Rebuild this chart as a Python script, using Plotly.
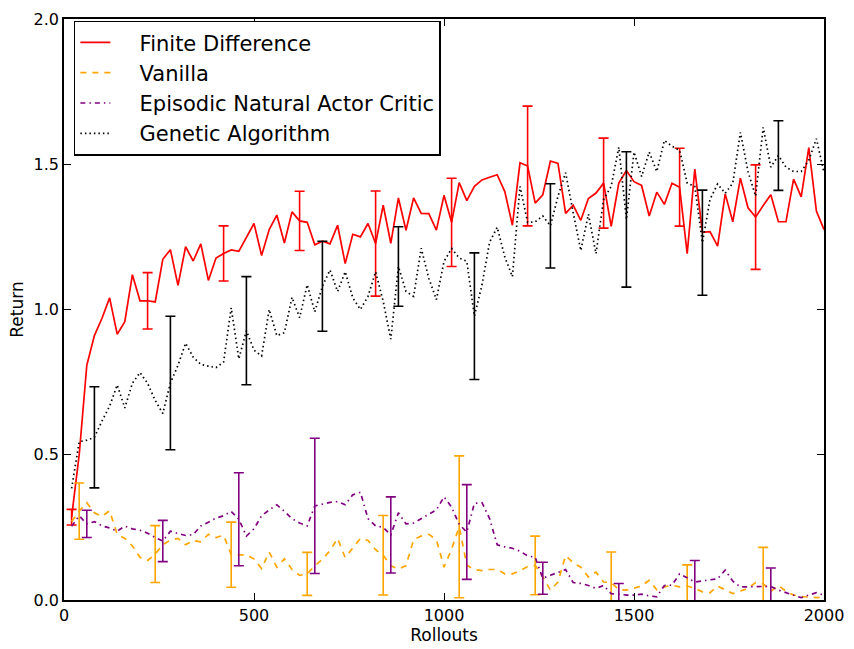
import plotly.graph_objects as go

rollouts = list(range(20, 2001, 20))

finite_difference = [
    0.285, 0.50, 0.808, 0.91, 0.97, 1.04, 0.915, 0.958, 1.12, 1.03,
    1.03, 1.026, 1.173, 1.206, 1.083, 1.216, 1.167, 1.226, 1.10, 1.177,
    1.193, 1.205, 1.20, 1.248, 1.296, 1.186, 1.275, 1.325, 1.229, 1.336,
    1.305, 1.30, 1.223, 1.235, 1.226, 1.29, 1.158, 1.259, 1.25, 1.296,
    1.227, 1.359, 1.228, 1.384, 1.273, 1.384, 1.331, 1.33, 1.273, 1.393,
    1.30, 1.437, 1.375, 1.424, 1.446, 1.455, 1.464, 1.406, 1.29, 1.505,
    1.494, 1.366, 1.395, 1.511, 1.503, 1.331, 1.359, 1.307, 1.382, 1.401,
    1.435, 1.286, 1.435, 1.478, 1.44, 1.427, 1.322, 1.404, 1.362, 1.435,
    1.421, 1.192, 1.483, 1.266, 1.268, 1.218, 1.398, 1.302, 1.452, 1.35,
    1.318, 1.358, 1.395, 1.302, 1.302, 1.449, 1.388, 1.557, 1.339, 1.275,
]

vanilla = [
    0.27, 0.306, 0.335, 0.30, 0.288, 0.307, 0.226, 0.212, 0.186, 0.147,
    0.136, 0.158, 0.19, 0.206, 0.212, 0.19, 0.205, 0.20, 0.226, 0.215,
    0.223, 0.156, 0.155, 0.156, 0.141, 0.108, 0.165, 0.113, 0.142, 0.105,
    0.085, 0.09, 0.118, 0.14, 0.17, 0.212, 0.146, 0.18, 0.212, 0.205,
    0.173, 0.154, 0.118, 0.107, 0.118, 0.208, 0.22, 0.226, 0.208, 0.113,
    0.175, 0.252, 0.12, 0.105, 0.101, 0.105, 0.105, 0.09, 0.09, 0.101,
    0.115, 0.119, 0.08, 0.034, 0.062, 0.153, 0.128, 0.113, 0.079, 0.096,
    0.062, 0.06, 0.036, 0.034, 0.04, 0.048, 0.068, 0.035, 0.045, 0.051,
    0.045, 0.048, 0.04, 0.028, 0.025, 0.048, 0.035, 0.022, 0.031, 0.04,
    0.06, 0.056, 0.03, 0.05, 0.03, 0.017, 0.012, 0.009, 0.008, 0.01,
]

enac = [
    0.254, 0.29, 0.262, 0.27, 0.255, 0.248, 0.237, 0.254, 0.245, 0.24,
    0.23, 0.215, 0.203, 0.237, 0.229, 0.222, 0.225, 0.255, 0.268, 0.282,
    0.29, 0.305, 0.278, 0.22, 0.245, 0.29, 0.31, 0.328, 0.305, 0.28,
    0.265, 0.255, 0.324, 0.33, 0.336, 0.339, 0.328, 0.362, 0.371, 0.28,
    0.255, 0.25, 0.224, 0.30, 0.262, 0.265, 0.28, 0.295, 0.31, 0.355,
    0.32, 0.26, 0.234, 0.333, 0.335, 0.28, 0.19, 0.183, 0.178, 0.168,
    0.152, 0.147, 0.075, 0.085, 0.096, 0.105, 0.06, 0.057, 0.05, 0.04,
    0.05, 0.022, 0.02, 0.017, 0.017, 0.02, 0.014, 0.011, 0.05, 0.051,
    0.09, 0.075, 0.062, 0.066, 0.07, 0.073, 0.103, 0.065, 0.045, 0.045,
    0.045, 0.046, 0.047, 0.034, 0.025, 0.015, 0.008, 0.017, 0.025, 0.017,
]

genetic = [
    0.384, 0.545, 0.55, 0.56, 0.616, 0.667, 0.74, 0.661, 0.746, 0.783,
    0.746, 0.687, 0.642, 0.747, 0.808, 0.884, 0.836, 0.811, 0.805, 0.80,
    0.819, 1.006, 0.83, 0.927, 0.86, 0.84, 1.0, 0.91, 0.92, 1.042,
    0.972, 1.085, 0.992, 1.08, 1.136, 1.062, 1.13, 1.04, 1.0, 1.045,
    1.13, 1.028, 0.898, 1.148, 1.062, 1.045, 1.211, 1.107, 1.034, 1.165,
    1.21, 1.177, 1.166, 0.977, 1.085, 1.232, 1.283, 1.181, 1.113, 1.424,
    1.30, 1.302, 1.322, 1.288, 1.39, 1.471, 1.333, 1.203, 1.328, 1.192,
    1.379, 1.424, 1.559, 1.31, 1.542, 1.458, 1.542, 1.475, 1.582, 1.562,
    1.548, 1.435, 1.424, 1.23, 1.379, 1.432, 1.40, 1.435, 1.61, 1.475,
    1.39, 1.627, 1.49, 1.53, 1.49, 1.475, 1.475, 1.514, 1.588, 1.471,
]

# error bars are drawn every 10th sample, each series with its own offset
fd_err = [0.027, 0.097, 0.095, 0.102, 0.181, 0.152, 0.206, 0.155, 0.134, 0.18]
vanilla_err = [0.097, 0.098, 0.112, 0.074, 0.137, 0.244, 0.101, 0.105, 0.073, 0.125]
enac_err = [0.047, 0.071, 0.16, 0.233, 0.131, 0.163, 0.055, 0.037, 0.074, 0.063]
genetic_err = [0.174, 0.23, 0.186, 0.155, 0.137, 0.218, 0.145, 0.233, 0.181, 0.12]

series = [
    ("Finite Difference", finite_difference, fd_err, 0, "#ff0000", "solid"),
    ("Vanilla", vanilla, vanilla_err, 1, "#ffa500", "6px,6px"),
    ("Episodic Natural Actor Critic", enac, enac_err, 2, "#800080", "5px,4px,1.5px,4px"),
    ("Genetic Algorithm", genetic, genetic_err, 3, "#000000", "1.5px,3px"),
]

FONT = "DejaVu Sans"
PAD = "\u00a0\u00a0\u00a0\u2009"  # extra room between legend sample and label

fig = go.Figure()

for name, values, errs, offset, color, dash in series:
    fig.add_trace(go.Scatter(
        x=rollouts, y=values, mode="lines", name=PAD + name,
        line=dict(color=color, width=1.7, dash=dash),
    ))
    idx = list(range(offset, len(rollouts), 10))
    fig.add_trace(go.Scatter(
        x=[rollouts[i] for i in idx], y=[values[i] for i in idx],
        mode="markers", marker=dict(size=0.1, color=color, opacity=0),
        showlegend=False, hoverinfo="skip",
        error_y=dict(type="data", array=errs, visible=True,
                     color=color, thickness=1.6, width=5),
    ))

axis_common = dict(
    showline=True, linecolor="black", linewidth=1.5, mirror="ticks",
    ticks="inside", ticklen=7, tickwidth=1, tickcolor="black",
    showgrid=False, zeroline=False,
    tickfont=dict(family=FONT, size=16, color="black"),
)

fig.update_layout(
    width=854, height=649,
    margin=dict(l=64, r=28, t=10, b=49),
    paper_bgcolor="white", plot_bgcolor="white",
    font=dict(family=FONT, color="black"),
    xaxis=dict(range=[0, 2000], tickvals=[0, 500, 1000, 1500, 2000],
               ticktext=["0", "500", "1000", "1500", "2000"],
               title=dict(text="Rollouts", font=dict(family=FONT, size=17), standoff=2),
               **axis_common),
    yaxis=dict(range=[0, 2.0], tickvals=[0, 0.5, 1.0, 1.5, 2.0],
               ticktext=["0.0", "0.5", "1.0", "1.5", "2.0"],
               title=dict(text="Return", font=dict(family=FONT, size=17), standoff=6),
               **axis_common),
    legend=dict(x=0.013, y=0.997, xanchor="left", yanchor="top",
                bgcolor="white", bordercolor="black", borderwidth=1.5,
                font=dict(family=FONT, size=21, color="black")),
    showlegend=True,
)

fig.write_html("out.html")
